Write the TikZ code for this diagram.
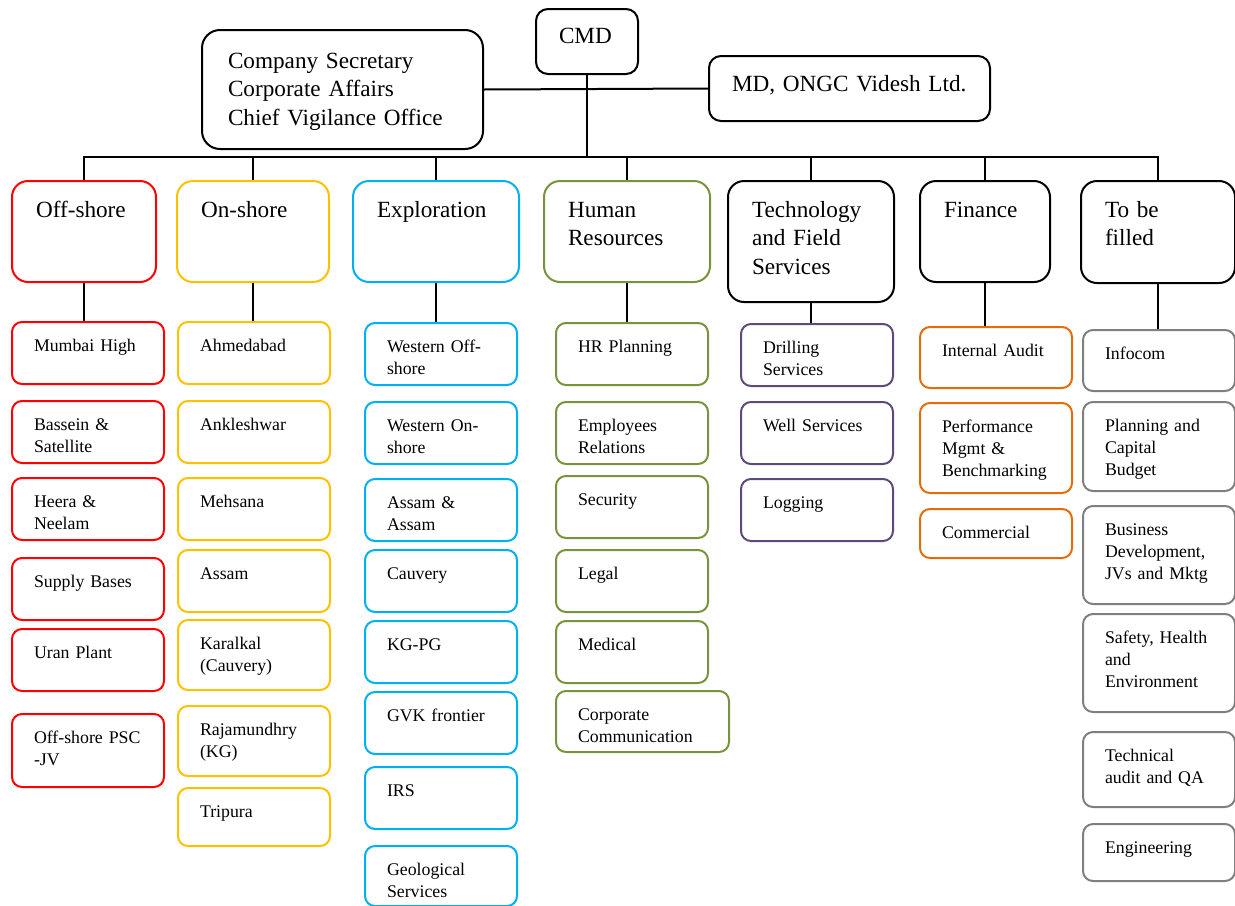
\documentclass[tikz,border=0pt]{standalone}
\usepackage{fontspec}
\setmainfont{Liberation Serif}
\exhyphenpenalty=10000
\hyphenpenalty=10000
\definecolor{offred}{HTML}{FF0000}
\definecolor{onyellow}{HTML}{FFC000}
\definecolor{explblue}{HTML}{00B0F0}
\definecolor{hrgreen}{HTML}{77933C}
\definecolor{techpurple}{HTML}{5F497A}
\definecolor{finorange}{HTML}{E46C0A}
\definecolor{tbfgray}{HTML}{7F7F7F}
\begin{document}
\begin{tikzpicture}[x=0.5pt,y=-0.5pt,line width=1pt,
            panel/.style={draw=#1,anchor=north west,align=left,inner ysep=0pt},
            top node/.style={panel=black,rounded corners=6pt,font=\fontsize{11.6}{14.3}\selectfont},
            head node/.style={panel=#1,rounded corners=8pt,inner xsep=12pt,text height=18pt,
              text depth=32.5pt,font=\fontsize{11.6}{14.3}\selectfont},
            sub node/.style={panel=#1,rounded corners=5pt,inner xsep=11pt,text width=54pt,
              text height=14.5pt,text depth=16.5pt,font=\fontsize{8.9}{11}\selectfont},
            deep/.style={text depth=#1pt}]

        \useasboundingbox (0,0) rectangle (1235,905);

        % Top level
        \node[top node,inner xsep=11.5pt,text width=28pt,text height=17pt,text depth=15.5pt] (cmd) at (535,8) {CMD};
        \node[top node,rounded corners=9pt,inner xsep=13pt,text width=114.5pt,text height=19pt,text depth=40.5pt] (cs) at (201,29)
            {Company Secretary\\Corporate Affairs\\Chief Vigilance Office};
        \node[top node,inner xsep=11.5pt,text width=117.5pt,text height=17.5pt,text depth=15pt] (md) at (708,55) {MD, ONGC Videsh Ltd.};

        % Directorates
        \node[head node=offred,text width=48pt] (off) at (11,180) {Off-shore};
        \node[head node=onyellow,text width=52pt] (on) at (176,180) {On-shore};
        \node[head node=explblue,text width=59pt] (expl) at (352,180) {Exploration};
        \node[head node=hrgreen,text width=59pt] (hr) at (543,180) {Human\\Resources};
        \node[head node=black,text width=59pt,deep=42.5] (tech) at (727,180) {Technology\\and Field\\Services};
        \node[head node=black,text width=41pt] (fin) at (919,180) {Finance};
        \node[head node=black,text width=53pt,deep=33] (tbf) at (1080,180) {To be\\filled};

        % Off-shore
        \node[sub node=offred] (mumbai) at (11,321) {Mumbai High};
        \node[sub node=offred] (bassein) at (11,400) {Bassein \&\\Satellite};
        \node[sub node=offred] (heera) at (11,477) {Heera \&\\Neelam};
        \node[sub node=offred] (supply) at (11,557) {Supply Bases};
        \node[sub node=offred] (uran) at (11,628) {Uran Plant};
        \node[sub node=offred,deep=22] (offpsc) at (11,713) {Off-shore PSC\\-JV};

        % On-shore
        \node[sub node=onyellow] (ahmed) at (177,321) {Ahmedabad};
        \node[sub node=onyellow] (ankl) at (177,400) {Ankleshwar};
        \node[sub node=onyellow] (mehsana) at (177,477) {Mehsana};
        \node[sub node=onyellow] (assamon) at (177,549) {Assam};
        \node[sub node=onyellow,deep=20.5] (karalkal) at (177,619) {Karalkal\\(Cauvery)};
        \node[sub node=onyellow,deep=20.5] (rajam) at (177,705) {Rajamundhry\\(KG)};
        \node[sub node=onyellow,deep=14.5] (tripura) at (177,787) {Tripura};

        % Exploration
        \node[sub node=explblue] (wof) at (364,322) {Western Off-\\shore};
        \node[sub node=explblue] (won) at (364,401) {Western On-\\shore};
        \node[sub node=explblue] (assamex) at (364,478) {Assam \&\\Assam};
        \node[sub node=explblue] (cauvery) at (364,549) {Cauvery};
        \node[sub node=explblue] (kgpg) at (364,620) {KG-PG};
        \node[sub node=explblue] (gvk) at (364,691) {GVK frontier};
        \node[sub node=explblue] (irs) at (364,766) {IRS};
        \node[sub node=explblue,deep=15.5] (geo) at (364,845) {Geological\\Services};

        % Human Resources
        \node[sub node=hrgreen] (hrp) at (555,322) {HR Planning};
        \node[sub node=hrgreen] (emp) at (555,401) {Employees\\Relations};
        \node[sub node=hrgreen] (sec) at (555,475) {Security};
        \node[sub node=hrgreen] (legal) at (555,549) {Legal};
        \node[sub node=hrgreen] (medical) at (555,620) {Medical};
        \node[sub node=hrgreen,text width=64.5pt,deep=16] (corpcom) at (555,690) {Corporate\\Communication};

        % Technology and Field Services
        \node[sub node=techpurple] (drill) at (740,323) {Drilling\\Services};
        \node[sub node=techpurple] (well) at (740,401) {Well Services};
        \node[sub node=techpurple] (logging) at (740,478) {Logging};

        % Finance
        \node[sub node=finorange,deep=16] (audit) at (919,326) {Internal Audit};
        \node[sub node=finorange,deep=30.5] (perf) at (919,402) {Performance\\Mgmt \&\\Benchmarking};
        \node[sub node=finorange,deep=10] (commercial) at (919,508) {Commercial};

        % To be filled
        \node[sub node=tbfgray,deep=16] (infocom) at (1082,329) {Infocom};
        \node[sub node=tbfgray,deep=30] (plan) at (1082,401) {Planning and\\Capital\\Budget};
        \node[sub node=tbfgray,deep=34.5] (bizdev) at (1082,505) {Business\\Development,\\JVs and Mktg};
        \node[sub node=tbfgray,deep=34.5] (safety) at (1082,613) {Safety, Health\\and\\Environment};
        \node[sub node=tbfgray,deep=23] (techaudit) at (1082,731) {Technical\\audit and QA};
        \node[sub node=tbfgray,deep=14] (eng) at (1082,823) {Engineering};

        % Draw edges
        \coordinate (bus) at (0,157);
        \draw (cs.east) -- (md.west);
        \foreach \h in {off,on,expl,hr,tech,fin,tbf}
            \draw (\h.north) -- (\h.north |- bus) -| (cmd.south);
        \foreach \h/\k in {off/mumbai,on/ahmed,expl/wof,hr/hrp,tech/drill,fin/audit,tbf/infocom}
            \draw (\h.south) -- (\h.south |- \k.north);

        \end{tikzpicture}
\end{document}
